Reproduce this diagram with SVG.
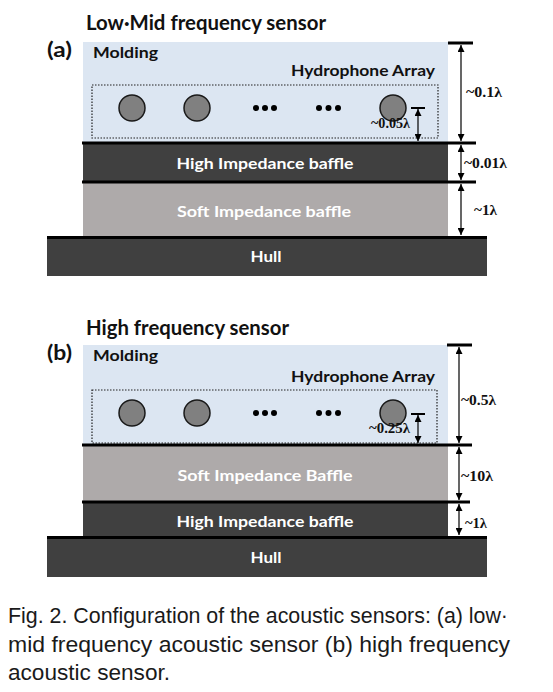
<svg xmlns="http://www.w3.org/2000/svg" width="553" height="692" viewBox="0 0 553 692">
<style>
.title{font-family:Lato,"Open Sans","Liberation Sans",sans-serif;font-weight:bold;font-size:20px;fill:#111}
.lbl{font-family:Lato,"Open Sans","Liberation Sans",sans-serif;font-weight:bold;font-size:16px;fill:#111}
.wlbl{font-family:Lato,"Open Sans","Liberation Sans",sans-serif;font-weight:bold;font-size:16px;fill:#fff;text-anchor:middle}
.dim{font-family:"Liberation Serif","DejaVu Serif",serif;font-weight:bold;font-size:15px;fill:#111}
.sdim{font-family:"Liberation Serif","DejaVu Serif",serif;font-weight:bold;font-size:14px;fill:#111}
.cap{font-family:"Liberation Sans",Arial,sans-serif;font-size:22px;fill:#1a1a1a}
.mold{fill:#dce6f2}
.high{fill:#404040}
.soft{fill:#aeaaaa}
.hull{fill:#404040}
.bar{stroke:#000;stroke-width:3;fill:none}
.dl{stroke:#000;stroke-width:1.2;fill:none;marker-start:url(#ah);marker-end:url(#ah)}
.arr{fill:none;stroke:#222;stroke-width:1.2;stroke-dasharray:1.5 1.5}
.hp{fill:#808080;stroke:#1a1a1a;stroke-width:1.5}
.dot{fill:#000}
</style>
<defs>
<marker id="ah" viewBox="0 0 10 10" refX="10" refY="5" markerWidth="7" markerHeight="7" markerUnits="userSpaceOnUse" orient="auto-start-reverse">
<path d="M0,0 L10,5 L0,10 z" fill="#000"/>
</marker>
</defs>

<!-- Panel (a) -->
<g id="title-a">
<text class="title" x="86" y="30" textLength="240" lengthAdjust="spacingAndGlyphs">Low·Mid frequency sensor</text>
<text class="title" x="47" y="57" textLength="25" lengthAdjust="spacingAndGlyphs">(a)</text>
</g>
<g id="molding-a">
<rect class="mold" x="83" y="42" width="365" height="101"/>
<text class="lbl" x="93" y="58" textLength="65" lengthAdjust="spacingAndGlyphs">Molding</text>
</g>
<g id="array-a">
<text class="lbl" x="291" y="76" textLength="144" lengthAdjust="spacingAndGlyphs">Hydrophone Array</text>
<rect class="arr" x="92" y="85" width="346" height="53"/>
<circle class="hp" cx="132" cy="108" r="13"/>
<circle class="hp" cx="197" cy="108" r="13"/>
<circle class="dot" cx="256" cy="108" r="3"/>
<circle class="dot" cx="265" cy="108" r="3"/>
<circle class="dot" cx="274" cy="108" r="3"/>
<circle class="dot" cx="319" cy="108" r="3"/>
<circle class="dot" cx="328.5" cy="108" r="3"/>
<circle class="dot" cx="338" cy="108" r="3"/>
<circle class="hp" cx="393" cy="108" r="13"/>
</g>
<g id="high-a">
<rect class="high" x="83" y="143" width="365" height="39"/>
<text class="wlbl" x="265" y="169" textLength="177" lengthAdjust="spacingAndGlyphs">High Impedance baffle</text>
</g>
<g id="soft-a">
<rect class="soft" x="83" y="182" width="365" height="55"/>
<text class="wlbl" x="264" y="217" textLength="174" lengthAdjust="spacingAndGlyphs">Soft Impedance baffle</text>
</g>
<g id="hull-a">
<rect class="hull" x="47" y="237" width="440" height="39"/>
<text class="wlbl" x="266" y="262" textLength="31" lengthAdjust="spacingAndGlyphs">Hull</text>
</g>
<g id="dims-a">
<text class="dim" x="466" y="97" textLength="36" lengthAdjust="spacingAndGlyphs">~0.1λ</text>
<text class="dim" x="464" y="168" textLength="43" lengthAdjust="spacingAndGlyphs">~0.01λ</text>
<text class="dim" x="474" y="215" textLength="23" lengthAdjust="spacingAndGlyphs">~1λ</text>
<text class="sdim" x="371" y="128" textLength="39" lengthAdjust="spacingAndGlyphs">~0.05λ</text>
</g>

<!-- Panel (b) -->
<g id="title-b">
<text class="title" x="86" y="335" textLength="203" lengthAdjust="spacingAndGlyphs">High frequency sensor</text>
<text class="title" x="47" y="360" textLength="25" lengthAdjust="spacingAndGlyphs">(b)</text>
</g>
<g id="molding-b">
<rect class="mold" x="83" y="345" width="365" height="100"/>
<text class="lbl" x="93" y="361" textLength="65" lengthAdjust="spacingAndGlyphs">Molding</text>
</g>
<g id="array-b">
<text class="lbl" x="291" y="382" textLength="144" lengthAdjust="spacingAndGlyphs">Hydrophone Array</text>
<rect class="arr" x="92" y="390" width="345" height="53"/>
<circle class="hp" cx="132" cy="413" r="13"/>
<circle class="hp" cx="197" cy="413" r="13"/>
<circle class="dot" cx="256" cy="413" r="3"/>
<circle class="dot" cx="265" cy="413" r="3"/>
<circle class="dot" cx="274" cy="413" r="3"/>
<circle class="dot" cx="319" cy="413" r="3"/>
<circle class="dot" cx="328.5" cy="413" r="3"/>
<circle class="dot" cx="338" cy="413" r="3"/>
<circle class="hp" cx="393" cy="413" r="13"/>
</g>
<g id="soft-b">
<rect class="soft" x="83" y="445" width="365" height="57"/>
<text class="wlbl" x="265" y="481" textLength="175" lengthAdjust="spacingAndGlyphs">Soft Impedance Baffle</text>
</g>
<g id="high-b">
<rect class="high" x="83" y="502" width="365" height="35"/>
<text class="wlbl" x="265" y="527" textLength="177" lengthAdjust="spacingAndGlyphs">High Impedance baffle</text>
</g>
<g id="hull-b">
<rect class="hull" x="47" y="537" width="440" height="40"/>
<text class="wlbl" x="266" y="563" textLength="31" lengthAdjust="spacingAndGlyphs">Hull</text>
</g>
<g id="dims-b">
<text class="dim" x="461" y="405" textLength="35" lengthAdjust="spacingAndGlyphs">~0.5λ</text>
<text class="dim" x="461" y="481" textLength="32" lengthAdjust="spacingAndGlyphs">~10λ</text>
<text class="dim" x="465" y="528" textLength="22" lengthAdjust="spacingAndGlyphs">~1λ</text>
<text class="sdim" x="369" y="433" textLength="41" lengthAdjust="spacingAndGlyphs">~0.25λ</text>
</g>

<g id="connectors">
<line class="bar" x1="448" y1="43" x2="473" y2="43"/>
<line class="bar" x1="82" y1="143" x2="476" y2="143"/>
<line class="bar" x1="82" y1="182" x2="476" y2="182"/>
<line class="bar" x1="47" y1="237.5" x2="487" y2="237.5"/>
<line class="dl" x1="461" y1="45" x2="461" y2="141"/>
<line class="dl" x1="461" y1="145" x2="461" y2="180"/>
<line class="dl" x1="461" y1="184" x2="461" y2="235"/>
<line stroke="#000" stroke-width="2" x1="411" y1="108" x2="425" y2="108"/>
<line class="dl" x1="418" y1="109" x2="418" y2="141"/>
<line class="bar" x1="447" y1="345" x2="472" y2="345"/>
<line class="bar" x1="82" y1="445" x2="472" y2="445"/>
<line class="bar" x1="82" y1="502" x2="470" y2="502"/>
<line class="bar" x1="47" y1="537.5" x2="487" y2="537.5"/>
<line class="dl" x1="459" y1="347" x2="459" y2="443"/>
<line class="dl" x1="459" y1="447" x2="459" y2="500"/>
<line class="dl" x1="459" y1="504" x2="459" y2="535"/>
<line stroke="#000" stroke-width="2" x1="411" y1="414" x2="425" y2="414"/>
<line class="dl" x1="418" y1="415" x2="418" y2="443"/>
</g>

<g id="caption">
<text class="cap" x="8" y="623" textLength="500" lengthAdjust="spacingAndGlyphs">Fig. 2. Configuration of the acoustic sensors: (a) low·</text>
<text class="cap" x="8" y="652" textLength="502" lengthAdjust="spacingAndGlyphs">mid frequency acoustic sensor (b) high frequency</text>
<text class="cap" x="8" y="680" textLength="162" lengthAdjust="spacingAndGlyphs">acoustic sensor.</text>
</g>
</svg>
